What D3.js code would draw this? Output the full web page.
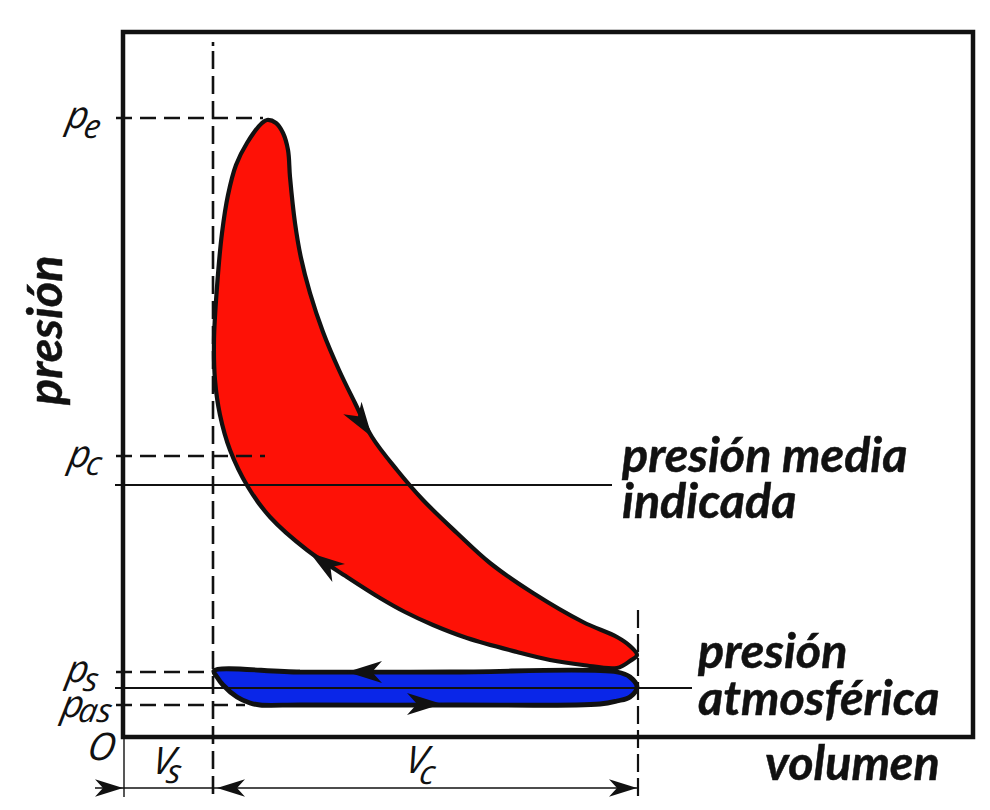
<!DOCTYPE html>
<meta charset="utf-8">
<script src="https://d3js.org/d3.v7.min.js"></script>
<style>
    body { margin: 0; background: #fff; }
    text { font-style: italic; fill: #111; }
    .big { font-family: Lato; font-weight: 700; font-size: 48.5px; stroke: #111; stroke-width: 0.5px; }
    .hand { font-family: "Open Sans"; font-weight: 400; font-size: 38px; }
    .sub { font-size: 33px; }
</style>
<div id="my_dataviz"></div>

<script>
    // working cycle, in drawing units (no numbers on the original axes)
    const redVolume = [28.8, 30.6, 32, 33, 33.4, 34.4, 35.6, 37.4, 40, 43.2, 46.4, 49.8, 54.8, 60, 66.8, 73.4, 82, 92, 98.8, 101.4, 102.8, 101.4, 98.8,
        92, 85.4, 78.8, 68.8, 62, 56.4, 51.4, 44.8, 36.8, 29.4, 25, 21.4, 19.4, 18.4, 18.2, 18.8, 19.8, 21, 22.6, 24.8, 27.8];
    const redPressure = [123.4, 122.8, 120.8, 117.4, 112, 102.8, 95.8, 88.8, 81, 73.4, 66.8, 60, 53.4, 47.4, 40.8, 34.8, 28.8, 23, 20, 18.2, 16.4, 15.2, 13.8,
        14.4, 15.4, 17, 19.8, 22.4, 25, 27.8, 32, 37.4, 44, 50, 57.4, 64.4, 71.4, 79.4, 90, 100.8, 108.4, 114.4, 118.8, 122.8];

    // pumping loop
    const blueVolume = [18.2, 35.4, 65.4, 98.8, 101.4, 102.8, 101.4, 98.8, 95.4, 65.4, 35.4, 27.4, 25.4, 22.8, 20, 18.8];
    const bluePressure = [13.2, 13, 13, 13, 12, 10, 8, 7.2, 6.6, 6.4, 6.4, 6.4, 6.8, 8, 10.4, 12];

    // reference levels
    const levelPressure = [123.8, 56.2, 13, 6.4];
    const levelEnd = [28, 28.4, 18, 24.4];
    const meanPressure = 50.4;
    const atmPressure = 9.8;

    const volS = 18;
    const volC = 103;
    const volMax = 170;
    const presMax = 141;

    // arrows on the curves: tip and heading in degrees
    const arrowVolume = [49.8, 37.4, 44.8, 63.8];
    const arrowPressure = [60, 36.8, 13, 6.6];
    const arrowHeading = [56, 215, 180, 0];

    const width = 990, height = 810;

    const svg = d3.select("#my_dataviz")
        .append("svg")
        .attr("width", width)
        .attr("height", height);

    const x = d3.scaleLinear().domain([0, volMax]).range([123, 973]);
    const y = d3.scaleLinear().domain([0, presMax]).range([737, 32]);

    const outline = d3.line()
        .x(d => x(d[0]))
        .y(d => y(d[1]))
        .curve(d3.curveCatmullRomClosed.alpha(0.5));

    // frame
    svg.append("rect")
        .attr("x", x(0)).attr("y", y(presMax))
        .attr("width", x(volMax) - x(0)).attr("height", y(0) - y(presMax))
        .attr("fill", "none").attr("stroke", "#111").attr("stroke-width", 4.5);

    const dashed = "16 8";
    function rule(x1, y1, x2, y2, w, dash) {
        svg.append("line")
            .attr("x1", x1).attr("y1", y1).attr("x2", x2).attr("y2", y2)
            .attr("stroke", "#111").attr("stroke-width", w)
            .attr("stroke-dasharray", dash || null);
    }

    // volume limits
    rule(x(volS), 42, x(volS), 46, 2.6);
    rule(x(volS), 51, x(volS), 797, 2.6, "18 7");
    rule(x(volC), 610, x(volC), 797, 2.2, "18 6");

    // loops
    svg.append("path")
        .attr("d", outline(d3.zip(redVolume, redPressure)))
        .attr("fill", "#fe1106").attr("stroke", "#111").attr("stroke-width", 4.2);
    svg.append("path")
        .attr("d", outline(d3.zip(blueVolume, bluePressure)))
        .attr("fill", "#0a26e8").attr("stroke", "#111").attr("stroke-width", 4.8);

    // dashed levels
    levelPressure.forEach((p, i) => {
        rule(x(0) - 7, y(p), x(levelEnd[i]), y(p), 2.4, dashed);
    });
    rule(x(0) - 8, y(meanPressure), 612, y(meanPressure), 2);
    rule(x(0) - 8, y(atmPressure), 692, y(atmPressure), 2);

    rule(x(0) + 1, y(0), x(0) + 1, 797, 1.4);
    rule(x(0) - 28, 788, x(volC), 788, 1.5);

    const head = "M0,0L-35,-11L-25,0L-35,11Z";
    svg.selectAll(".curveArrow")
        .data(arrowVolume)
        .join("path")
        .attr("class", "curveArrow")
        .attr("d", head)
        .attr("fill", "#111")
        .attr("transform", (d, i) => `translate(${x(d)},${y(arrowPressure[i])}) rotate(${arrowHeading[i]})`);

    // dimension arrows
    [[x(0), 0], [x(volS) + 4, 180], [x(volC) - 1, 0]].forEach(a => {
        svg.append("path")
            .attr("d", head)
            .attr("fill", "#111")
            .attr("transform", `translate(${a[0]},788) rotate(${a[1]}) scale(0.8)`);
    });

    // hand lettered symbols, slanted a bit more than the font's italic
    function symbol(px, py, main, sub, dx, dy) {
        const t = svg.append("text").attr("class", "hand")
            .attr("transform", `translate(${px},${py}) skewX(-10)`);
        t.append("tspan").text(main);
        if (sub) t.append("tspan").attr("class", "sub").attr("dx", dx).attr("dy", dy).text(sub);
    }
    symbol(65, 128, "p", "e", -3, 10);
    symbol(67, 467, "p", "c", -3, 8);
    symbol(65, 682, "p", "s", -3, 9);
    symbol(60, 717, "p", "as", -4, 5);
    symbol(86, 760, "O");
    symbol(151, 774, "V", "s", -5, 9);
    symbol(404, 773, "V", "c", -5, 11);

    // labels
    function big(px, py, s) {
        return svg.append("text").attr("class", "big").attr("x", px).attr("y", py).text(s);
    }
    big(622, 472, "presión media");
    big(622, 518, "indicada");
    big(698, 668, "presión");
    big(698, 715, "atmosférica");
    big(765, 780, "volumen");
    big(0, 0, "presión").attr("transform", "translate(62,405) rotate(-90)");
</script>
